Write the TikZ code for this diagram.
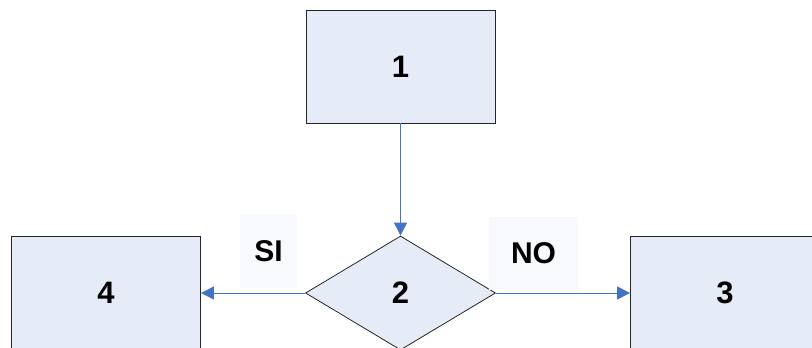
\documentclass[tikz,border=0pt]{standalone}
\usepackage{fontspec}
\setmainfont{Liberation Sans}
\usetikzlibrary{arrows.meta,shapes.geometric}
\definecolor{cFill}{HTML}{E6ECF7}
\definecolor{cTag}{HTML}{F8F9FC}
\definecolor{cLine}{HTML}{4472C4}
\tikzset{
  box/.style={draw=black!85,line width=0.8pt,fill=cFill,inner sep=0pt,
    minimum width=189pt,minimum height=113pt,font=\fontsize{31}{36}\selectfont\bfseries},
  decision/.style={diamond,draw=black!85,line width=0.8pt,fill=cFill,inner sep=0pt,
    minimum width=190pt,minimum height=114pt,font=\fontsize{31}{36}\selectfont\bfseries},
  tag/.style={fill=cTag,inner sep=0pt,font=\fontsize{30}{36}\selectfont\bfseries},
  flow/.style={-{Triangle[length=13pt,width=13pt]},cLine,line width=0.9pt},
}
\begin{document}
\begin{tikzpicture}[x=1pt,y=-1pt]
  \useasboundingbox (0,0) rectangle (812,348);
  % blocks
  \node[box] (n1) at (400.5,66.5) {1};
  \node[decision] (n2) at (400.5,293) {2};
  \node[box] (n4) at (106,293) {4};
  \node[box] (n3) at (725,293) {3};
  % answers
  \node[tag,minimum width=57pt,minimum height=74pt] (si) at (268.5,251) {SI};
  \node[tag,minimum width=89pt,minimum height=73pt] (no) at (533.5,253.5) {NO};
  % arrows
  \draw[flow] (n1.south) -- (n2.north);
  \draw[flow] (n2.west) -- (n4.east);
  \draw[flow] (n2.east) -- (n3.west);
\end{tikzpicture}
\end{document}
